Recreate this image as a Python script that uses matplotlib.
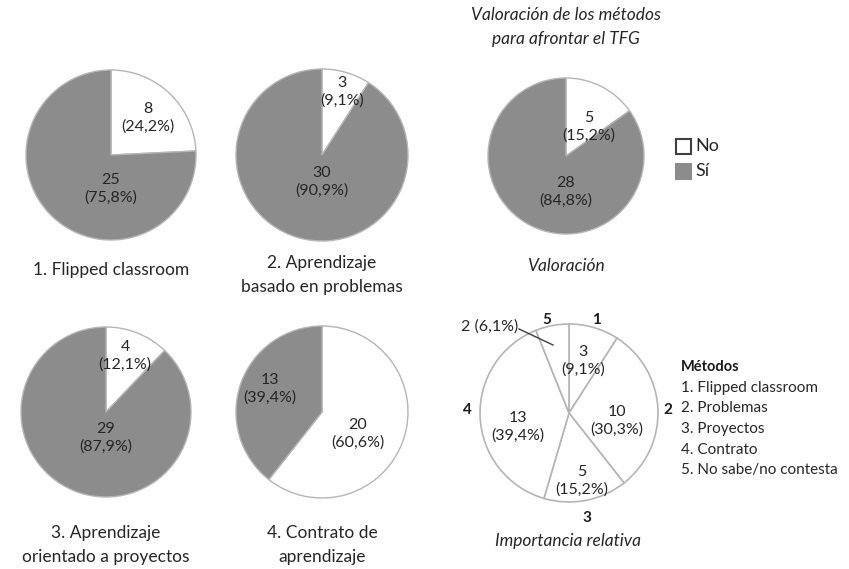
import numpy as np
import matplotlib.pyplot as plt

# Datos
metodos = ['1. Flipped classroom', '2. Aprendizaje\nbasado en problemas',
           '3. Aprendizaje\norientado a proyectos', '4. Contrato de\naprendizaje']
no_vals = [8, 3, 4, 20]
si_vals = [25, 30, 29, 13]
valoracion = [5, 28]          # No, Sí
importancia = [3, 10, 5, 13, 2]  # métodos 1..5
importancia_ids = ['1', '2', '3', '4', '5']
leyenda_metodos = ['1. Flipped classroom', '2. Problemas', '3. Proyectos',
                   '4. Contrato', '5. No sabe/no contesta']

W, H = 849, 569
GRIS = '#8c8c8c'
BORDE = '#b5b5b5'
plt.rcParams['font.family'] = ['Lato', 'DejaVu Sans']

fig = plt.figure(figsize=(W / 100, H / 100), dpi=100)
ax = fig.add_axes([0, 0, 1, 1])


def P(x, y):
    # pixel -> datos (y hacia arriba)
    return x, H - y


def etiqueta(v, total):
    return f"{v}\n({100 * v / total:.1f}%)".replace('.', ',')


def pie_nosi(vals, cx, cy, r, offs):
    total = sum(vals)
    ax.pie(vals, colors=['white', GRIS], startangle=90, counterclock=False,
           center=P(cx, cy), radius=r,
           wedgeprops=dict(edgecolor=BORDE, linewidth=1.0))
    for v, (dx, dy) in zip(vals, offs):
        ax.text(*P(cx + dx, cy + dy), etiqueta(v, total), ha='center', va='center',
                fontsize=11.5, color='#262626', linespacing=1.25)


# cinco gráficos No/Sí
pie_nosi([no_vals[0], si_vals[0]], 111, 155, 85, [(37, -37), (0, 34)])
pie_nosi([no_vals[1], si_vals[1]], 322, 155, 86, [(20, -63), (0, 27)])
pie_nosi(valoracion, 566, 156, 78, [(23, -29), (0, 36)])
pie_nosi([no_vals[2], si_vals[2]], 106, 412, 85, [(19, -56), (0, 26)])
pie_nosi([no_vals[3], si_vals[3]], 322, 412, 86, [(36, 22), (-52, -23)])

# importancia relativa
cx, cy, r = 569, 413, 89
tot = sum(importancia)
ax.pie(importancia, colors=['white'] * 5, startangle=90, counterclock=False,
       center=P(cx, cy), radius=r,
       wedgeprops=dict(edgecolor=BORDE, linewidth=1.2))
offs_in = [(14, -52), (48, 8), (13, 68), (-51, 14)]
for v, (dx, dy) in zip(importancia[:4], offs_in):
    ax.text(*P(cx + dx, cy + dy), etiqueta(v, tot), ha='center', va='center',
            fontsize=11.5, color='#262626', linespacing=1.25)
ax.text(*P(518, 327), etiqueta(importancia[4], tot).replace('\n', ' '),
        ha='right', va='center', fontsize=11.5, color='#262626')
ax.plot(*zip(P(519, 329), P(553, 345)), color='#404040', lw=1)
num_pos = [(596, 320), (668, 410), (587, 518), (467, 410), (547, 320)]
for t, (x, y) in zip(importancia_ids, num_pos):
    ax.text(*P(x, y), t, ha='center', va='center', fontsize=11, fontweight='bold',
            color='#1a1a1a')

# títulos
tit_kw = dict(ha='center', va='center', fontsize=12.5, color='#262626', linespacing=1.6)
ax.text(*P(111, 270), metodos[0], **tit_kw)
ax.text(*P(322, 275), metodos[1], **tit_kw)
ax.text(*P(106, 545), metodos[2], **tit_kw)
ax.text(*P(322, 545), metodos[3], **tit_kw)
ax.text(*P(566, 27), 'Valoración de los métodos\npara afrontar el TFG', style='italic', **tit_kw)
ax.text(*P(566, 266), 'Valoración', style='italic', **tit_kw)
ax.text(*P(568, 541), 'Importancia relativa', style='italic', **tit_kw)

# leyenda No / Sí
for i, (lab, col) in enumerate(zip(['No', 'Sí'], ['white', GRIS])):
    y = 146 + 25 * i
    ax.add_patch(plt.Rectangle(P(676, y + 8), 15, 15, facecolor=col,
                               edgecolor='#404040' if col == 'white' else GRIS, lw=1.5))
    ax.text(*P(695, y), lab, ha='left', va='center', fontsize=13, color='#262626')

# leyenda métodos
ax.text(*P(681, 367), 'Métodos', ha='left', va='center', fontsize=10.5,
        fontweight='bold', color='#1a1a1a')
for i, t in enumerate(leyenda_metodos):
    ax.text(*P(681, 388 + 20.5 * i), t, ha='left', va='center', fontsize=11,
            color='#262626')

ax.set_xlim(0, W)
ax.set_ylim(0, H)
ax.set_aspect('equal')
ax.axis('off')
fig.savefig('out.png', dpi=100)
